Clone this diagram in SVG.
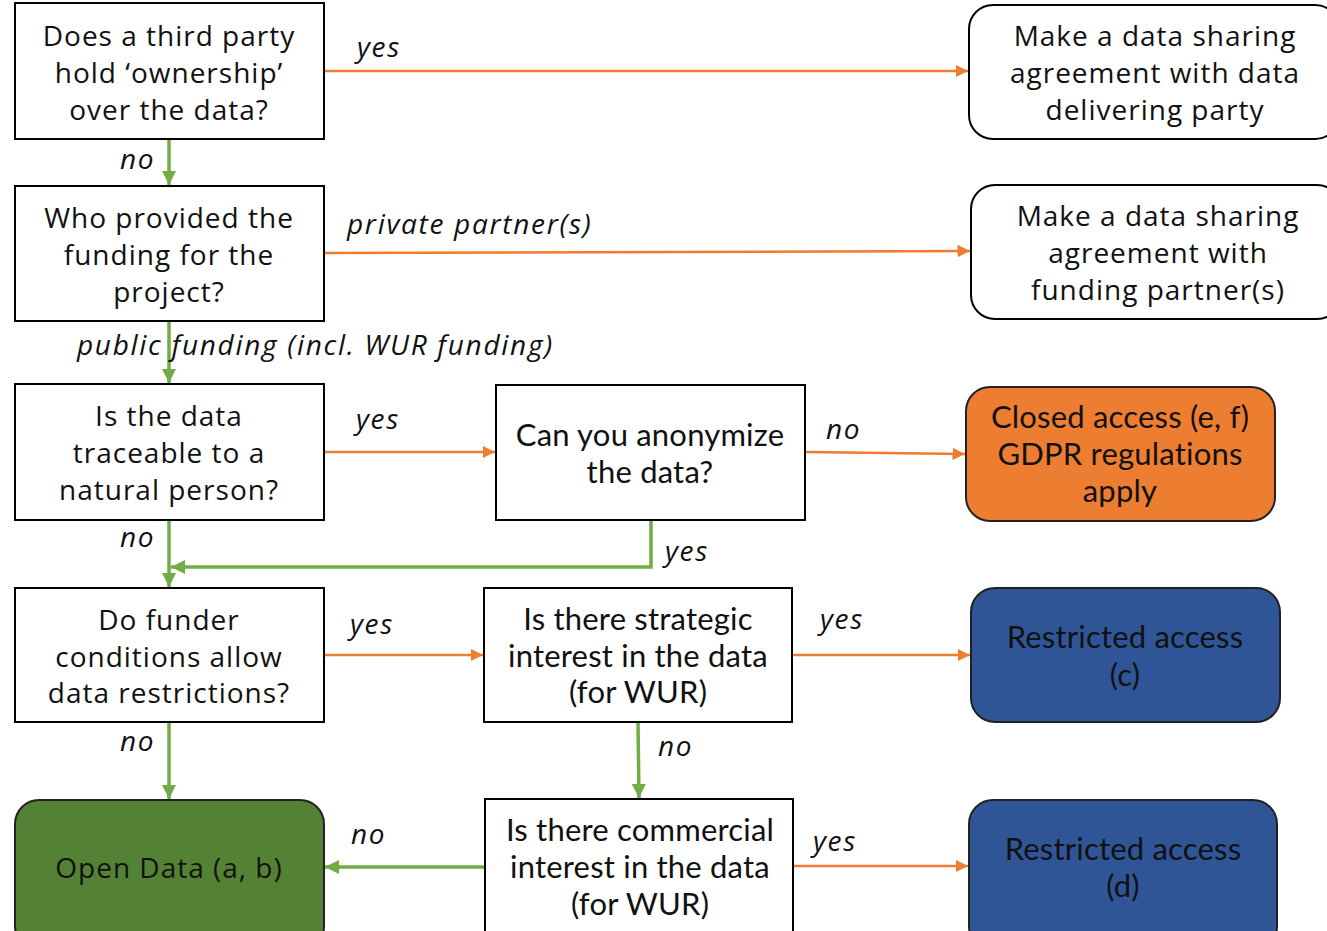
<svg xmlns="http://www.w3.org/2000/svg" width="1327" height="931" viewBox="0 0 1327 931">
<defs>
<marker id="ao" viewBox="0 0 10 10" refX="10" refY="5" markerWidth="5" markerHeight="5" orient="auto" markerUnits="strokeWidth"><path d="M0,0 L10,5 L0,10 z" fill="#ED7D31"/></marker>
<marker id="ag" viewBox="0 0 10 10" refX="10" refY="5" markerWidth="4" markerHeight="4" orient="auto" markerUnits="strokeWidth"><path d="M0,0 L10,5 L0,10 z" fill="#70AD47"/></marker>
<style>
.box{fill:#fff;stroke:#000;stroke-width:2}
.t{font-family:"Open Sans","Noto Sans",sans-serif;font-size:28px;letter-spacing:1px;fill:#111;text-anchor:middle}
.c{font-family:Lato,"Liberation Sans",sans-serif;font-size:31px;letter-spacing:0.2px;fill:#111;text-anchor:middle}
.l{font-family:"Open Sans","Noto Sans",sans-serif;font-style:italic;font-size:28px;letter-spacing:1.7px;fill:#111}
.or{fill:none;stroke:#ED7D31;stroke-width:2.5;marker-end:url(#ao)}
.gr{fill:none;stroke:#70AD47;stroke-width:3.5;marker-end:url(#ag)}
</style>
</defs>
<rect width="1327" height="931" fill="#fff"/>
<g id="connectors">
<line class="or" x1="324" y1="71" x2="968" y2="71"/>
<line class="gr" x1="169" y1="139" x2="169" y2="185"/>
<line class="or" x1="324" y1="253" x2="970" y2="251"/>
<line class="gr" x1="169" y1="321" x2="169" y2="383"/>
<line class="or" x1="324" y1="452" x2="495" y2="452"/>
<line class="or" x1="805" y1="452" x2="965" y2="454"/>
<line class="gr" x1="169" y1="520" x2="169" y2="587"/>
<polyline class="gr" points="651,520 651,567 171,567"/>
<line class="or" x1="324" y1="655" x2="483" y2="655"/>
<line class="or" x1="792" y1="655" x2="970" y2="655"/>
<line class="gr" x1="169" y1="722" x2="169" y2="799"/>
<line class="gr" x1="638" y1="722" x2="639" y2="798"/>
<line class="gr" x1="485" y1="867" x2="325" y2="867"/>
<line class="or" x1="793" y1="866" x2="968" y2="866"/>
<text class="l" x="357" y="57">yes</text>
<text class="l" x="120" y="169">no</text>
<text class="l" x="347" y="234">private partner(s)</text>
<text class="l" x="77" y="355">public  funding (incl. WUR funding)</text>
<text class="l" x="356" y="429">yes</text>
<text class="l" x="826" y="439">no</text>
<text class="l" x="120" y="547">no</text>
<text class="l" x="665" y="561">yes</text>
<text class="l" x="350" y="634">yes</text>
<text class="l" x="820" y="629">yes</text>
<text class="l" x="120" y="751">no</text>
<text class="l" x="658" y="756">no</text>
<text class="l" x="351" y="844">no</text>
<text class="l" x="813" y="851">yes</text>
</g>
<g id="n1"><rect class="box" x="15" y="3" width="309" height="136"/>
<text class="t" x="169" y="46">Does a third party</text><text class="t" x="169" y="83">hold ‘ownership’</text><text class="t" x="169" y="120">over the data?</text></g>
<g id="r1"><rect class="box" x="969" y="5" width="370" height="134" rx="24"/>
<text class="t" x="1155" y="46">Make a data sharing</text><text class="t" x="1155" y="83">agreement with data</text><text class="t" x="1155" y="120">delivering party</text></g>
<g id="n2"><rect class="box" x="15" y="186" width="309" height="135"/>
<text class="t" x="169" y="228">Who provided the</text><text class="t" x="169" y="265">funding for the</text><text class="t" x="169" y="302">project?</text></g>
<g id="r2"><rect class="box" x="971" y="185" width="370" height="134" rx="24"/>
<text class="t" x="1158" y="226">Make a data sharing</text><text class="t" x="1158" y="263">agreement with</text><text class="t" x="1158" y="300">funding partner(s)</text></g>
<g id="n3"><rect class="box" x="15" y="384" width="309" height="136"/>
<text class="t" x="169" y="426">Is the data</text><text class="t" x="169" y="463">traceable to a</text><text class="t" x="169" y="500">natural person?</text></g>
<g id="n4"><rect class="box" x="496" y="385" width="309" height="135"/>
<text class="c" x="650" y="446">Can you anonymize</text><text class="c" x="650" y="483">the data?</text></g>
<g id="closed"><rect x="966" y="387" width="309" height="134" rx="24" fill="#ED7D31" stroke="#222" stroke-width="2"/>
<text class="c" x="1120" y="428">Closed access (e, f)</text><text class="c" x="1120" y="465">GDPR regulations</text><text class="c" x="1120" y="502">apply</text></g>
<g id="n5"><rect class="box" x="15" y="588" width="309" height="134"/>
<text class="t" x="169" y="630">Do funder</text><text class="t" x="169" y="667">conditions allow</text><text class="t" x="169" y="703">data restrictions?</text></g>
<g id="n6"><rect class="box" x="484" y="588" width="308" height="134"/>
<text class="c" x="638" y="630">Is there strategic</text><text class="c" x="638" y="667">interest in the data</text><text class="c" x="638" y="703">(for WUR)</text></g>
<g id="rc"><rect x="971" y="588" width="309" height="134" rx="24" fill="#2F5597" stroke="#222" stroke-width="2"/>
<text class="c" x="1125" y="648">Restricted access</text><text class="c" x="1125" y="686">(c)</text></g>
<g id="open"><rect x="15" y="800" width="309" height="150" rx="24" fill="#548235" stroke="#222" stroke-width="2"/>
<text class="t" x="169" y="878">Open Data (a, b)</text></g>
<g id="n7"><rect class="box" x="485" y="799" width="308" height="150"/>
<text class="c" x="640" y="841">Is there commercial</text><text class="c" x="640" y="878">interest in the data</text><text class="c" x="640" y="915">(for WUR)</text></g>
<g id="rd"><rect x="969" y="800" width="308" height="150" rx="24" fill="#2F5597" stroke="#222" stroke-width="2"/>
<text class="c" x="1123" y="860">Restricted access</text><text class="c" x="1123" y="897">(d)</text></g>
</svg>
